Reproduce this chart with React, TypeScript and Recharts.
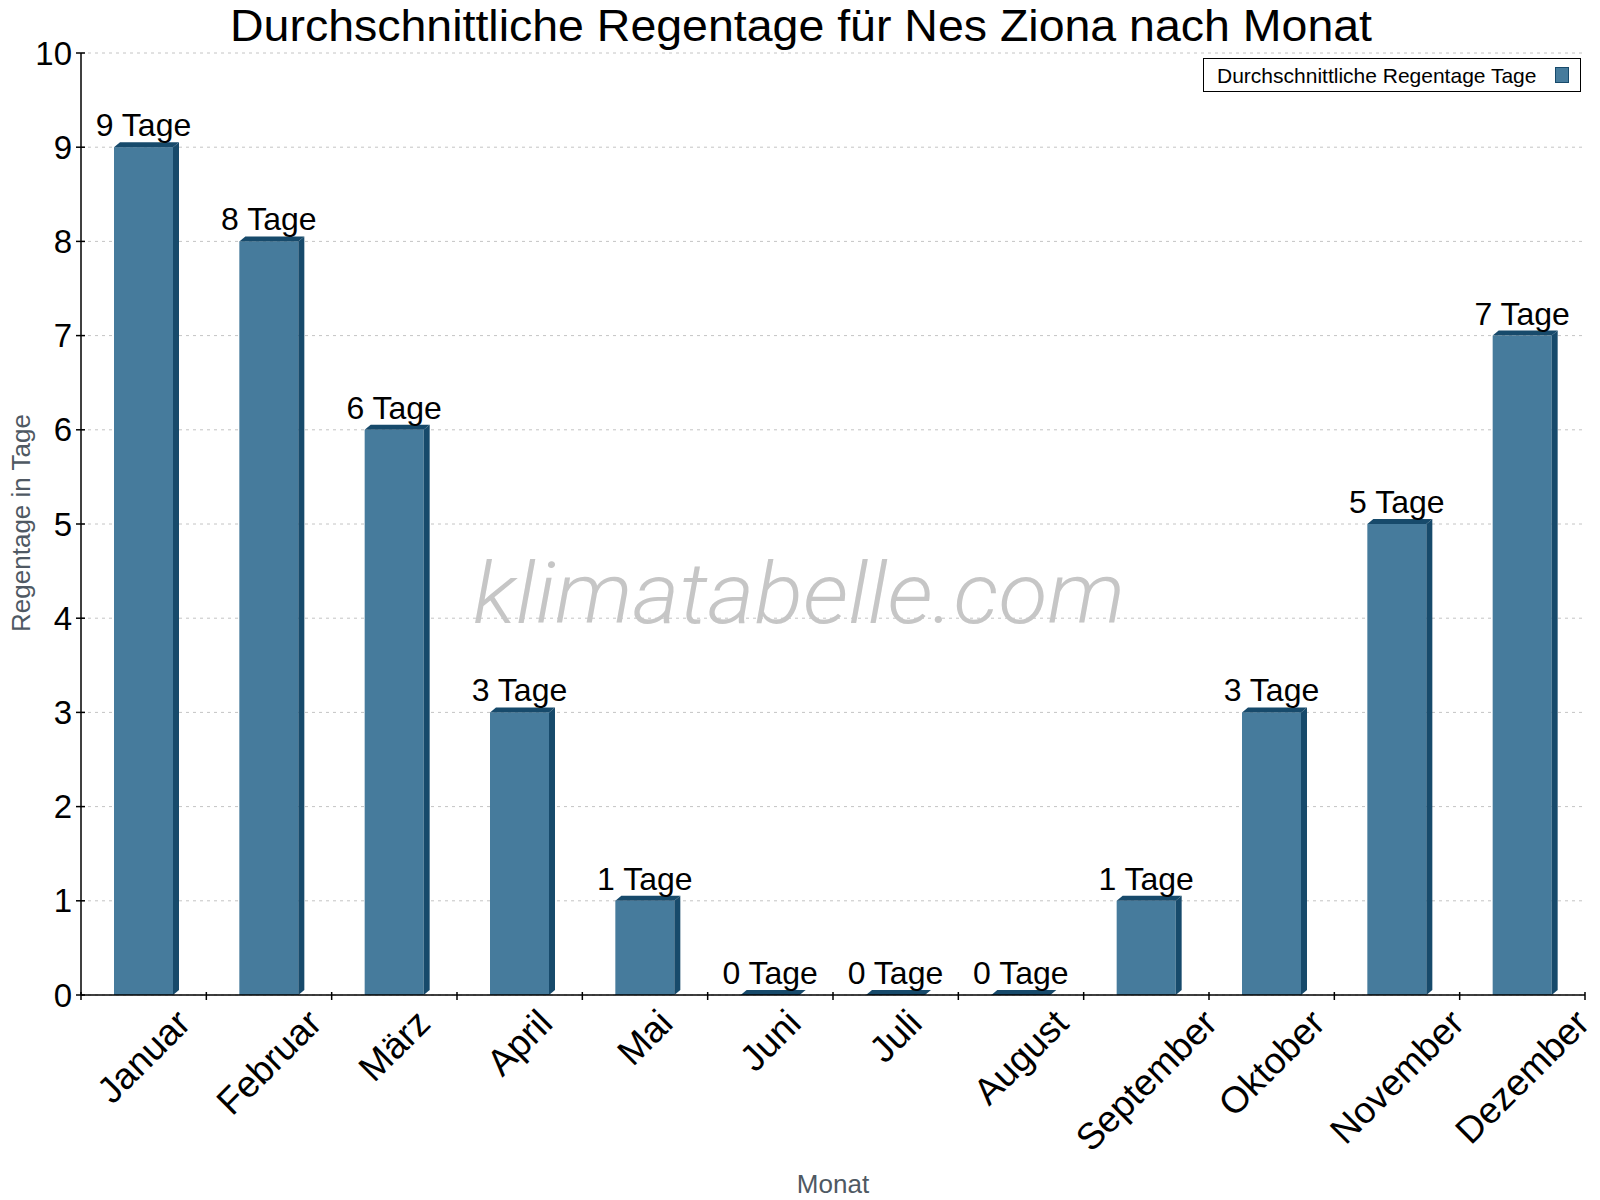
import React from 'react';
import { BarChart, Bar, XAxis, YAxis, CartesianGrid, LabelList } from 'recharts';

const months = [
  'Januar', 'Februar', 'März', 'April', 'Mai', 'Juni',
  'Juli', 'August', 'September', 'Oktober', 'November', 'Dezember',
];
const rainDays = [9, 8, 6, 3, 1, 0, 0, 0, 1, 3, 5, 7];
const yTicks = [0, 1, 2, 3, 4, 5, 6, 7, 8, 9, 10];

const data = months.map((month, i) => ({ month, days: rainDays[i] }));

const W = 1600;
const H = 1200;
const AXIS_W = 81;
const RIGHT = 15;
const TOP = 53;
const XAXIS_H = 205;
const PLOT_W = W - AXIS_W - RIGHT;

const FONT = "'Liberation Sans', Arial, Helvetica, sans-serif";
const FRONT = '#467b9c';
const DARK = '#174a6b';

let ctx: CanvasRenderingContext2D | null = null;
const measure = (text: string, size: number) => {
  if (!ctx) ctx = document.createElement('canvas').getContext('2d');
  if (!ctx) return text.length * size * 0.55;
  ctx.font = `${size}px ${FONT}`;
  return ctx.measureText(text).width;
};

// bar with a small 3d top and side
const Bar3D = (props: any) => {
  const { x, y, width, height } = props;
  const dx = 6;
  const dy = 5;
  return (
    <g>
      {height > 0 && <rect x={x} y={y} width={width} height={height} fill={FRONT} />}
      {height > 0 && (
        <polygon
          points={`${x + width},${y} ${x + width + dx},${y - dy} ${x + width + dx},${y + height - dy} ${x + width},${y + height}`}
          fill={DARK}
        />
      )}
      <polygon
        points={`${x},${y} ${x + dx},${y - dy} ${x + width + dx},${y - dy} ${x + width},${y}`}
        fill={DARK}
      />
    </g>
  );
};

const XTick = (props: any) => {
  const { x, y, payload, index } = props;
  const band = PLOT_W / months.length;
  const size = 37;
  const label = String(payload.value);
  const w = measure(label, size);
  const ext = (w + 27) * Math.SQRT1_2;
  const cy = y + 12 + ext / 2;
  return (
    <g>
      <line x1={x - band / 2} x2={x - band / 2} y1={y - 3} y2={y + 5} stroke="#000" strokeWidth={1.5} />
      {index === months.length - 1 && (
        <line x1={x + band / 2} x2={x + band / 2} y1={y - 3} y2={y + 5} stroke="#000" strokeWidth={1.5} />
      )}
      <text
        x={x}
        y={cy}
        textAnchor="middle"
        dominantBaseline="central"
        fontSize={size}
        fontFamily={FONT}
        fill="#000"
        transform={`rotate(-45 ${x} ${cy})`}
      >
        {label}
      </text>
    </g>
  );
};

const YTick = (props: any) => {
  const { x, y, payload } = props;
  return (
    <g>
      <line x1={x - 5} x2={x + 4} y1={y} y2={y} stroke="#000" strokeWidth={1.5} />
      <text x={x - 9} y={y} textAnchor="end" dominantBaseline="central" fontSize={33} fontFamily={FONT} fill="#000">
        {payload.value}
      </text>
    </g>
  );
};

const DayLabel = (props: any) => {
  const { x, y, width, value } = props;
  return (
    <text x={x + width / 2} y={y - 11} textAnchor="middle" fontSize={32} fontFamily={FONT} fill="#000">
      {`${value} Tage`}
    </text>
  );
};

export default function App() {
  return (
    <div style={{ position: 'absolute', left: 0, top: 0, width: W, height: H, background: '#fff' }}>
      <BarChart width={W} height={H} data={data} margin={{ top: TOP, right: RIGHT, bottom: 0, left: 0 }}>
        <CartesianGrid vertical={false} stroke="#c4c4c4" strokeDasharray="3 4" />
        <XAxis
          dataKey="month"
          height={XAXIS_H}
          interval={0}
          tickSize={0}
          tickMargin={0}
          tickLine={false}
          axisLine={{ stroke: '#000', strokeWidth: 1.5 }}
          tick={<XTick />}
        />
        <YAxis
          width={AXIS_W}
          domain={[0, 10]}
          ticks={yTicks}
          interval={0}
          tickSize={0}
          tickMargin={0}
          tickLine={false}
          axisLine={{ stroke: '#000', strokeWidth: 1.5 }}
          tick={<YTick />}
        />
        <YAxis
          yAxisId="r"
          orientation="right"
          width={0}
          domain={[0, 10]}
          tick={false}
          tickLine={false}
          axisLine={{ stroke: '#000', strokeWidth: 1.5 }}
        />
        <Bar dataKey="days" barSize={59} shape={<Bar3D />} isAnimationActive={false}>
          <LabelList dataKey="days" content={<DayLabel />} />
        </Bar>
      </BarChart>
      <svg
        width={W}
        height={H}
        style={{ position: 'absolute', left: 0, top: 0, pointerEvents: 'none' }}
      >
        <text
          x={801}
          y={41}
          textAnchor="middle"
          fontSize={44}
          fontFamily={FONT}
          fill="#000"
          textLength={1142}
          lengthAdjust="spacingAndGlyphs"
        >
          Durchschnittliche Regentage für Nes Ziona nach Monat
        </text>
        <text
          x={799}
          y={623}
          textAnchor="middle"
          fontSize={86}
          fontFamily="Roboto, 'Open Sans', sans-serif"
          fontWeight={300}
          fontStyle="italic"
          fill="#c6c6c6"
          textLength={652}
          lengthAdjust="spacingAndGlyphs"
        >
          klimatabelle.com
        </text>
        <g>
          <rect x={1203.5} y={58.5} width={377} height={33} fill="#fff" stroke="#000" strokeWidth={1} />
          <text x={1217} y={83} fontSize={21} fontFamily={FONT} fill="#000">
            Durchschnittliche Regentage Tage
          </text>
          <rect x={1555.5} y={67.5} width={13} height={15} fill={FRONT} stroke={DARK} strokeWidth={1} />
        </g>
        <text
          x={30}
          y={523}
          textAnchor="middle"
          fontSize={26}
          fontFamily={FONT}
          fill="#4f5963"
          transform="rotate(-90 30 523)"
        >
          Regentage in Tage
        </text>
        <text x={833} y={1193} textAnchor="middle" fontSize={26} fontFamily={FONT} fill="#4f5963">
          Monat
        </text>
      </svg>
    </div>
  );
}
